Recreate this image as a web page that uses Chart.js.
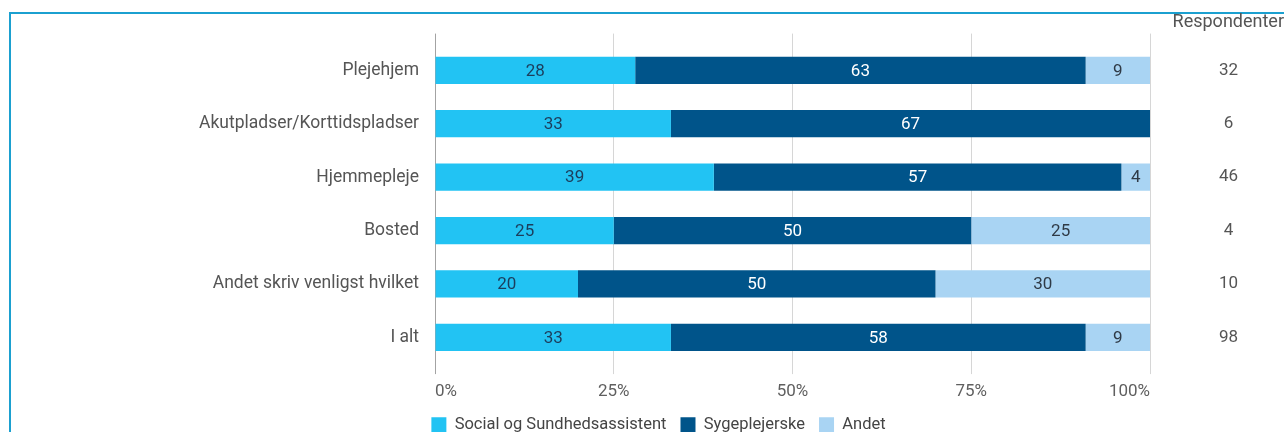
<!DOCTYPE html>
<html>
<head>
<meta charset="utf-8">
<script src="https://cdn.jsdelivr.net/npm/chart.js@4"></script>
<style>
    body { margin: 0; background: #ffffff; overflow: hidden; }
    .frame {
        position: absolute; left: 9px; top: 12px; width: 1400px; height: 600px;
        border-left: 2px solid #1ba0d0; border-top: 2px solid #1ba0d0;
    }
    .chart-box { position: absolute; left: 0; top: 0; width: 1284px; height: 443px; }
</style>
</head>
<body>
<div class="frame"></div>
<div class="chart-box"><canvas id="chart"></canvas></div>
<script>
    // Categories and shares (percent of respondents per workplace)
    const categories = ['Plejehjem', 'Akutpladser/Korttidspladser', 'Hjemmepleje', 'Bosted', 'Andet skriv venligst hvilket', 'I alt'];
    const sosuValues = [28, 33, 39, 25, 20, 33];
    const nurseValues = [63, 67, 57, 50, 50, 58];
    const otherValues = [9, 0, 4, 25, 30, 9];
    const respondents = [32, 6, 46, 4, 10, 98];
    const xTicks = [0, 25, 50, 75, 100];

    const FONT = 'Roboto';
    const LEFT_PAD = 33;
    const gridColor = (ctx) => (ctx.tick && ctx.tick.value === 0 ? '#a3a3a3' : '#d6d6d6');

    // Writes the value in the middle of every non-empty segment
    const segmentLabels = {
        id: 'segmentLabels',
        afterDatasetsDraw(chart) {
            const { ctx } = chart;
            ctx.save();
            ctx.font = '17px ' + FONT;
            ctx.textAlign = 'center';
            ctx.textBaseline = 'middle';
            chart.data.datasets.forEach((ds, i) => {
                const meta = chart.getDatasetMeta(i);
                meta.data.forEach((bar, j) => {
                    const v = ds.data[j];
                    if (!v) return;
                    ctx.fillStyle = ds.labelColor;
                    ctx.fillText(String(v), (bar.x + bar.base) / 2, bar.y + 1);
                });
            });
            ctx.restore();
        }
    };

    new Chart(document.getElementById('chart'), {
        type: 'bar',
        data: {
            labels: categories,
            datasets: [
                { label: 'Social og Sundhedsassistent', data: sosuValues, backgroundColor: '#22c3f3', labelColor: '#1c3d5c' },
                { label: 'Sygeplejerske', data: nurseValues, backgroundColor: '#00548a', labelColor: '#ffffff' },
                { label: 'Andet', data: otherValues, backgroundColor: '#a9d4f3', labelColor: '#2f3a46' }
            ]
        },
        options: {
            indexAxis: 'y',
            responsive: true,
            maintainAspectRatio: false,
            animation: false,
            layout: { padding: { left: LEFT_PAD, right: 0, top: 12, bottom: 0 } },
            datasets: { bar: { barPercentage: 0.51, categoryPercentage: 1, borderWidth: 0 } },
            scales: {
                x: {
                    stacked: true,
                    min: 0,
                    max: 100,
                    afterBuildTicks: (scale) => { scale.ticks = xTicks.map((v) => ({ value: v })); },
                    // labels may sit close to the legend, keep the axis band short
                    afterFit: (scale) => { scale.height -= 6; },
                    grid: { color: gridColor, drawTicks: true, tickLength: 10 },
                    border: { display: false },
                    ticks: {
                        align: 'inner',
                        padding: 7,
                        color: '#5f5f5f',
                        font: { family: FONT, size: 17 },
                        callback: (v) => v + '%'
                    }
                },
                xTop: {
                    position: 'top',
                    min: 0,
                    max: 100,
                    afterBuildTicks: (scale) => { scale.ticks = xTicks.map((v) => ({ value: v })); },
                    grid: { color: gridColor, drawOnChartArea: false, drawTicks: true, tickLength: 10 },
                    border: { display: false },
                    ticks: { display: false }
                },
                y: {
                    stacked: true,
                    afterFit: (scale) => { scale.width = 435 - LEFT_PAD; },
                    grid: { display: false, drawTicks: false },
                    border: { display: false },
                    ticks: { padding: 16, color: '#555555', font: { family: FONT, size: 17.5 } }
                },
                yRight: {
                    type: 'category',
                    position: 'right',
                    labels: respondents.map(String),
                    offset: true,
                    afterFit: (scale) => {
                        scale.width = 134;
                        scale.paddingTop = 0;
                        scale.paddingBottom = 0;
                    },
                    grid: { display: false, drawTicks: false },
                    border: { display: false },
                    ticks: { crossAlign: 'center', padding: 69, color: '#555555', font: { family: FONT, size: 17 } }
                }
            },
            plugins: {
                title: {
                    display: true,
                    text: 'Respondenter',
                    align: 'end',
                    color: '#555555',
                    font: { family: FONT, size: 18, weight: 'normal' },
                    padding: { top: 0, bottom: 0 }
                },
                legend: {
                    position: 'bottom',
                    labels: {
                        boxWidth: 15,
                        boxHeight: 15,
                        padding: 14,
                        color: '#444444',
                        font: { family: FONT, size: 16.5 }
                    }
                },
                tooltip: { enabled: false }
            }
        },
        plugins: [segmentLabels]
    });
</script>
</body>
</html>
